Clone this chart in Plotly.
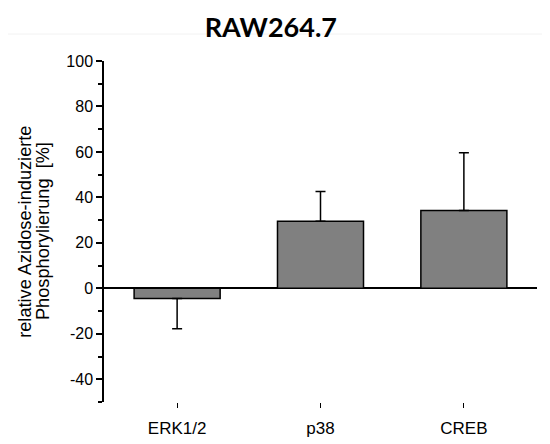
import plotly.graph_objects as go

categories = ["ERK1/2", "p38", "CREB"]
values = [-4.5, 29.5, 34.2]
errors = [13.3, 13.1, 25.4]
y_tick_vals = [-40, -20, 0, 20, 40, 60, 80, 100]
y_tick_text = ["-40", "-20", "0", "20", "40", "60", "80", "100"]
y_minor_vals = [-50, -30, -10, 10, 30, 50, 70, 90]
y_title_lines = ["relative Azidose-induzierte", "Phosphorylierung  [%]"]

err_plus = [e if v >= 0 else 0 for v, e in zip(values, errors)]
err_minus = [e if v < 0 else 0 for v, e in zip(values, errors)]

fig = go.Figure()
fig.add_trace(go.Bar(
    x=categories, y=values, width=0.6,
    marker=dict(color="#808080", line=dict(color="black", width=1.5)),
    error_y=dict(type="data", symmetric=False, array=err_plus, arrayminus=err_minus,
                 color="black", thickness=1.5, width=5),
))

# page has an 8px body margin, so the figure is 8px smaller and margins shifted
fig.update_layout(
    width=542, height=436,
    margin=dict(l=96, r=13, t=53, b=42),
    paper_bgcolor="white", plot_bgcolor="white",
    showlegend=False,
    font=dict(family="Liberation Sans, Arial, sans-serif", size=16, color="black"),
    title=dict(text="<b>RAW264.7</b>", x=0.485, xanchor="center", y=0.956, yanchor="middle",
               font=dict(family="Lato, sans-serif", size=27, color="black")),
    xaxis=dict(range=[-0.51, 2.51], showline=False, ticks="outside", ticklen=5,
               tickcolor="black", tickwidth=1, showgrid=False, zeroline=False,
               tickfont=dict(size=17), ticklabelstandoff=6, automargin=False),
    yaxis=dict(range=[-50, 100], tickvals=y_tick_vals, ticktext=y_tick_text,
               showline=True, linecolor="black", linewidth=1.5,
               ticks="outside", ticklen=6, tickcolor="black", tickwidth=1.5,
               minor=dict(tickvals=y_minor_vals, ticks="outside",
                          ticklen=4, tickcolor="black", tickwidth=1.5),
               showgrid=False, zeroline=True, zerolinecolor="black", zerolinewidth=1.5,
               tickfont=dict(size=16), automargin=False),
)
for xpos, line in zip([-0.184, -0.142], y_title_lines):
    fig.add_annotation(text=line, xref="paper", yref="paper", x=xpos, y=0.5,
                       xanchor="center", yanchor="middle", textangle=-90,
                       showarrow=False,
                       font=dict(family="Liberation Sans, Arial, sans-serif",
                                 size=18.2, color="black"))
fig.add_shape(type="line", xref="paper", yref="paper", x0=-0.222, x1=1.03,
              y0=1.079, y1=1.079, line=dict(color="#f2f2f2", width=1))

fig.write_html("out.html")
